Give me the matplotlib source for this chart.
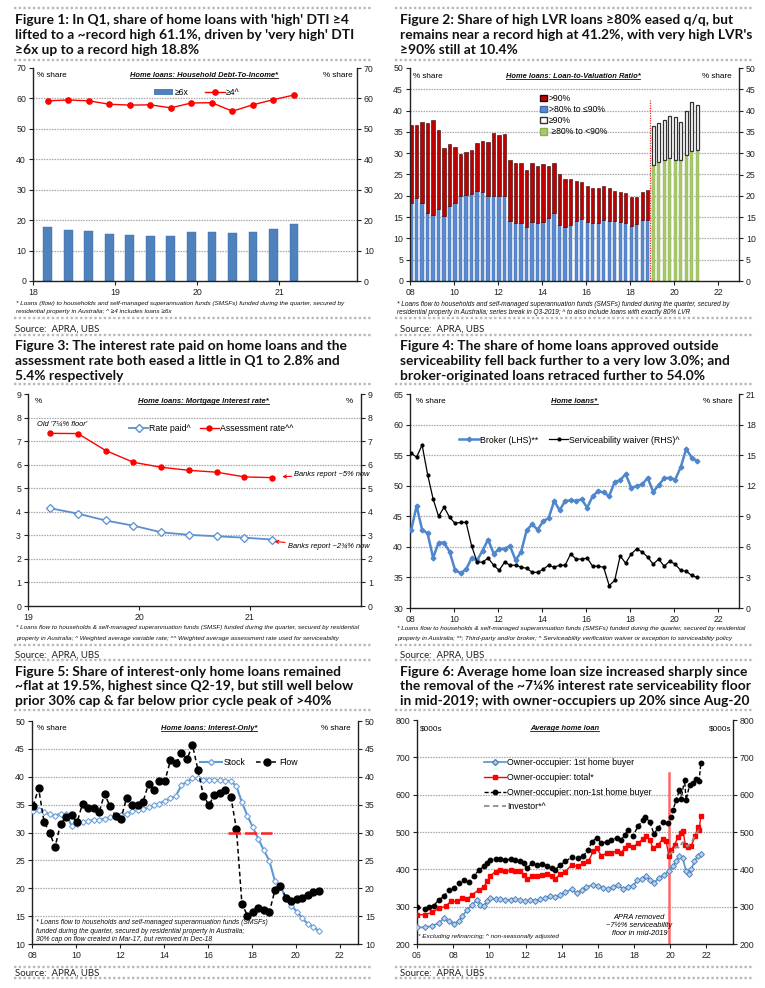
import numpy as np
import matplotlib
matplotlib.use('Agg')
import matplotlib.pyplot as plt
from matplotlib.lines import Line2D
from matplotlib.patches import Patch

# ====================== DATA ======================
# Figure 1: DTI shares, quarterly Mar-18 .. Mar-21
f1_dti6 = [17.6, 16.9, 16.4, 15.5, 15.0, 14.7, 14.8, 16.2, 16.0, 15.7, 16.1, 17.0, 18.8]
f1_dti4 = [59.2, 59.5, 59.2, 58.1, 57.8, 57.9, 56.9, 58.5, 58.6, 55.8, 57.9, 59.6, 61.1]

# Figure 2: LVR shares, quarterly 2008Q1 .. 2018Q4 (old series) then 2019Q1 .. 2021Q1 (new series)
f2_80_90 = [18.4, 19.5, 18.4, 15.9, 15.5, 16.8, 15.2, 17.7, 18.2, 20.0, 20.2, 20.4, 21.2, 20.9,
            20.0, 20.0, 19.9, 20.0, 14.1, 13.7, 13.5, 12.7, 13.8, 13.7, 13.9, 14.9, 15.9, 13.2,
            12.7, 13.1, 14.1, 14.5, 13.9, 13.7, 13.7, 14.3, 14.1, 14.1, 13.9, 13.7, 13.0, 13.3,
            14.3, 14.3]
f2_gt90 = [18.2, 17.1, 19.0, 21.2, 22.2, 18.7, 16.1, 14.4, 13.2, 9.9, 10.1, 10.3, 11.3, 11.9,
           12.7, 14.8, 14.3, 14.4, 14.3, 14.0, 14.1, 13.3, 13.8, 13.3, 13.5, 12.1, 11.9, 11.9,
           11.2, 10.8, 9.4, 8.8, 8.4, 8.2, 8.2, 8.0, 7.8, 7.1, 7.0, 7.0, 6.8, 6.5, 6.6, 7.0]
f2_new_80_90 = [27.2, 28.0, 28.4, 28.9, 28.5, 28.4, 29.5, 30.5, 30.8]
f2_new_ge90 = [9.3, 9.1, 9.3, 9.8, 10.0, 8.9, 10.5, 11.5, 10.4]

# Figure 3: mortgage interest rates, quarterly Mar-19 .. Mar-21
f3_rate_paid = [4.15, 3.92, 3.63, 3.41, 3.13, 3.02, 2.96, 2.90, 2.82]
f3_assess = [7.33, 7.32, 6.60, 6.10, 5.89, 5.76, 5.68, 5.48, 5.45]

# Figure 4: broker share (LHS) and serviceability waiver (RHS), quarterly 2008Q1 .. 2021Q1
f4_broker = [42.7, 46.7, 42.8, 42.2, 38.2, 40.7, 40.7, 39.2, 36.2, 35.7, 36.3, 38.2, 37.8, 39.4,
             41.2, 38.9, 39.6, 39.7, 40.1, 37.8, 39.2, 42.7, 43.7, 42.8, 44.2, 44.7, 47.5, 46.0,
             47.5, 47.6, 47.5, 47.8, 46.4, 48.3, 49.1, 48.9, 48.3, 50.6, 50.9, 51.9, 49.7, 49.9,
             50.2, 51.3, 49.0, 50.1, 51.2, 51.3, 51.0, 53.0, 56.0, 54.6, 54.0]
f4_waiver = [15.2, 14.8, 16.0, 13.1, 10.7, 9.0, 9.9, 8.9, 8.3, 8.4, 8.4, 6.1, 4.5, 4.5, 4.9,
             4.2, 3.7, 4.5, 4.2, 4.2, 4.0, 3.9, 3.5, 3.5, 3.8, 4.2, 4.0, 4.2, 4.2, 5.3, 4.8,
             4.8, 4.9, 4.1, 4.1, 4.0, 2.2, 2.7, 5.1, 4.4, 5.3, 5.8, 5.5, 5.0, 4.3, 4.8, 4.1,
             4.6, 4.3, 3.7, 3.6, 3.2, 3.0]

# Figure 5: interest-only share, quarterly 2008Q1 .. 2021Q1
f5_stock = [33.9, 34.0, 33.6, 33.3, 33.0, 33.4, 33.3, 31.2, 31.6, 31.8, 32.1, 32.2, 32.3, 32.5,
            32.7, 32.9, 33.1, 33.4, 33.8, 34.0, 34.2, 34.5, 34.9, 35.2, 35.7, 36.1, 36.6, 38.5,
            39.1, 39.7, 39.7, 39.5, 39.5, 39.4, 39.4, 39.3, 39.2, 38.3, 35.4, 33.0, 30.9, 28.8,
            26.8, 24.9, 21.3, 20.3, 18.3, 16.9, 15.8, 14.6, 13.6, 13.1, 12.3]
f5_flow = [34.8, 37.9, 31.9, 30.0, 27.4, 31.6, 32.8, 33.1, 31.8, 35.2, 34.4, 34.4, 33.6, 36.9,
           34.7, 33.0, 32.5, 36.2, 35.0, 35.0, 35.5, 38.7, 37.7, 39.3, 39.3, 43.0, 42.4, 44.2,
           43.1, 45.7, 41.2, 36.6, 34.9, 36.8, 37.1, 37.7, 36.3, 30.6, 17.2, 15.1, 15.8, 16.5,
           16.1, 15.8, 19.6, 20.4, 18.3, 17.7, 18.1, 18.2, 18.7, 19.4, 19.5]
f5_cap = 30.0
f5_cap_span = [2016.9, 2018.9]

# Figure 6: average home loan ($000s)
f6_fhb_x = [2006.0, 2006.42, 2006.85, 2007.21, 2007.49, 2007.76, 2008.04, 2008.32, 2008.5, 2008.78,
            2009.05, 2009.33, 2009.51, 2009.69, 2009.88, 2010.06, 2010.34, 2010.61, 2010.89, 2011.17,
            2011.44, 2011.72, 2011.99, 2012.27, 2012.54, 2012.82, 2013.1, 2013.37, 2013.65, 2013.92,
            2014.2, 2014.55, 2014.82, 2015.1, 2015.37, 2015.74, 2016.02, 2016.29, 2016.57, 2016.84,
            2017.12, 2017.39, 2017.67, 2017.94, 2018.18, 2018.44, 2018.68, 2018.86, 2019.1, 2019.36,
            2019.66, 2019.92, 2020.15, 2020.33, 2020.51, 2020.69, 2020.88, 2021.01, 2021.16, 2021.34,
            2021.52, 2021.69]
f6_fhb = [244.6, 244.6, 249, 256, 269.5, 260.6, 254.4, 260.6, 274, 291.8,
          305, 318.6, 305, 302.5, 314, 323, 320, 320, 318.6, 318.6,
          320, 316.8, 314, 318.6, 316, 320, 323, 329.3, 325.7, 332,
          338, 347, 336, 343.5, 352.5, 358.7, 356, 349.8, 347, 354,
          357.8, 347, 354, 356, 370.3, 373.8, 381, 372, 363, 376.5,
          385.4, 394.3, 407.7, 421, 434.5, 430, 394.3, 388, 400.6, 421,
          436, 441.6]
f6_tot_x = [2006.0, 2006.42, 2006.85, 2007.21, 2007.58, 2007.86, 2008.22, 2008.5, 2008.78, 2009.05,
            2009.42, 2009.69, 2009.88, 2010.06, 2010.34, 2010.61, 2010.89, 2011.17, 2011.44, 2011.72,
            2011.9, 2012.08, 2012.36, 2012.64, 2012.91, 2013.19, 2013.46, 2013.65, 2013.92, 2014.2,
            2014.55, 2014.91, 2015.19, 2015.47, 2015.74, 2015.93, 2016.2, 2016.48, 2016.75, 2017.03,
            2017.3, 2017.49, 2017.67, 2017.94, 2018.22, 2018.49, 2018.68, 2018.86, 2019.05, 2019.32,
            2019.6, 2019.78, 2019.92, 2020.06, 2020.24, 2020.42, 2020.6, 2020.71, 2020.83, 2020.97,
            2021.16, 2021.38, 2021.52, 2021.6, 2021.69]
f6_tot = [278.5, 278.5, 284.7, 296, 300.7, 314, 314, 323, 320, 332,
          345, 352.5, 367.6, 382.8, 394, 397, 396, 397, 396, 395,
          385.4, 374, 381, 382.8, 385.4, 388, 382.8, 374, 388, 394,
          412, 407.7, 416.6, 421, 447.8, 456.7, 436, 443.4, 445, 447.8,
          445, 456.7, 465.7, 459.4, 470, 481, 490, 479, 456.7, 465.7,
          481, 474.6, 436, 452.3, 465.7, 486, 496.9, 504, 465.7, 459.4,
          463, 488, 514.7, 505.8, 543]
f6_non_x = [2006.0, 2006.42, 2006.66, 2006.92, 2007.21, 2007.49, 2007.76, 2008.04, 2008.32, 2008.59,
            2008.87, 2009.14, 2009.42, 2009.69, 2009.88, 2010.06, 2010.34, 2010.61, 2010.89, 2011.17,
            2011.44, 2011.72, 2011.9, 2012.08, 2012.36, 2012.64, 2012.91, 2013.19, 2013.46, 2013.65,
            2013.92, 2014.2, 2014.55, 2014.91, 2015.19, 2015.47, 2015.65, 2015.93, 2016.2, 2016.48,
            2016.75, 2017.03, 2017.3, 2017.49, 2017.67, 2017.94, 2018.22, 2018.49, 2018.62, 2018.86,
            2019.1, 2019.32, 2019.6, 2019.88, 2020.03, 2020.15, 2020.33, 2020.51, 2020.6, 2020.79,
            2020.88, 2021.07, 2021.25, 2021.43, 2021.6, 2021.69]
f6_non = [299, 294, 299, 302.5, 318.6, 327.5, 345, 350, 363, 372,
          365, 382.5, 397, 407.7, 416.6, 425.5, 427, 427, 425.5, 427,
          425.5, 421, 416.6, 403, 416.6, 411, 415, 407.7, 403, 398.8,
          412, 421, 432.7, 430, 436, 452, 473, 484, 471, 473,
          479.6, 484, 479.6, 492, 506, 490, 515, 532.5, 539.6, 528,
          495, 510, 528, 523.6, 539.6, 559, 586, 613, 588, 639.5,
          586, 626, 630.6, 641, 637.7, 684]
f6_inv_x = [2019.92, 2020.15, 2020.33, 2020.51, 2020.64, 2020.79, 2020.94, 2021.16, 2021.34, 2021.52, 2021.6]
f6_inv = [439, 448, 461, 457, 470, 474.6, 461, 470, 488, 501, 506]
f6_break = 2019.92

# ====================== LAYOUT ======================
W, H = 765, 988
fig = plt.figure(figsize=(W / 100, H / 100), dpi=100)
fig.patch.set_facecolor('white')
R = fig.canvas.get_renderer()

BODY = ['Liberation Sans Narrow', 'Liberation Sans', 'DejaVu Sans']
TFAM = ['Lato', 'DejaVu Sans']
plt.rcParams['font.family'] = BODY

GRID = '#a8a8a8'
SEP = '#b8b8b8'
BLUE = '#4f81bd'
TICK = 6.3


def add_ax(l, t, r, b):
    return fig.add_axes([l / W, 1 - b / H, (r - l) / W, (b - t) / H])


def fit(t, width):
    w = t.get_window_extent(R).width
    t.set_fontsize(t.get_fontsize() * width / w)
    return t.get_fontsize()


def ftext(x, y, s, **kw):
    return fig.text(x / W, 1 - y / H, s, **kw)


def hsep(x0, x1, y):
    fig.add_artist(Line2D([x0 / W, x1 / W], [1 - y / H] * 2, color=SEP, lw=1.7,
                          ls=(0, (1, 1))))


def make_axes(box, xlim, xticks, xlabels, ylim, yticks, rylim=None, ryticks=None):
    ax = add_ax(*box)
    ax.set_xlim(xlim)
    ax.set_ylim(ylim)
    ax.set_xticks(xticks)
    ax.set_xticklabels(xlabels)
    ax.set_yticks(yticks)
    ax.spines['top'].set_visible(False)
    ax.spines['right'].set_visible(False)
    for s in ['left', 'bottom']:
        ax.spines[s].set_linewidth(1.0)
        ax.spines[s].set_color('#222222')
    ax.tick_params(axis='both', labelsize=TICK, length=3, width=0.8, pad=2,
                   colors='#222222')
    for v in yticks[1:-1]:
        ax.axhline(v, color=GRID, lw=0.9, ls=(0, (1.2, 0.9)), zorder=0)
    ax2 = ax.twinx()
    ax2.set_ylim(rylim if rylim is not None else ylim)
    ax2.set_yticks(ryticks if ryticks is not None else yticks)
    for s in ['top', 'left', 'bottom']:
        ax2.spines[s].set_visible(False)
    ax2.spines['right'].set_linewidth(1.0)
    ax2.spines['right'].set_color('#222222')
    ax2.tick_params(axis='y', labelsize=TICK, length=3, width=0.8, pad=2, colors='#222222')
    return ax, ax2


def ul_title(ax, xf, yf, s, width):
    t = ax.text(xf, yf, s, transform=ax.transAxes, ha='center', va='center',
                fontsize=6.3, fontweight='bold', style='italic', color='#111111')
    fit(t, width)
    bb = t.get_window_extent(R)
    y0 = bb.y0 + 1.0
    fig.add_artist(Line2D([bb.x0 / W, bb.x1 / W], [y0 / H, y0 / H], color='#111111', lw=0.6))
    return t


def corner_labels(ax, s, xl, xr, yf, size=5.9):
    ax.text(xl, yf, s, transform=ax.transAxes, ha='left', va='center', fontsize=size)
    ax.text(xr, yf, s, transform=ax.transAxes, ha='right', va='center', fontsize=size)


def footnote(x, ys, lines, width):
    t0 = ftext(x, ys[0], lines[0], fontsize=5.5, style='italic', va='baseline', color='#111111')
    fs = fit(t0, width)
    for y, s in zip(ys[1:], lines[1:]):
        ftext(x, y, s, fontsize=fs, style='italic', va='baseline', color='#111111')


# ---- title font size fitted on reference lines (smallest fit wins) ----
_sizes = []
for s, w in [("lifted to a ~record high 61.1%, driven by 'very high' DTI", 345),
             ("remains near a record high at 41.2%, with very high LVR's", 353),
             ("the removal of the ~7\u00bc% interest rate serviceability floor", 352),
             ("serviceability fell back further to a very low 3.0%; and", 328),
             ("~flat at 19.5%, highest since Q2-19, but still well below", 342)]:
    _t = ftext(0, 0, s, fontsize=10, fontweight='bold', family=TFAM)
    _sizes.append(fit(_t, w))
    _t.remove()
TS = min(_sizes)


def title(x, ys, lines):
    for y, s in zip(ys, lines):
        ftext(x, y, s, fontsize=TS, fontweight='bold', family=TFAM, va='baseline',
              color='#111111')


def source(x, y):
    t = ftext(x, y, 'Source:  APRA, UBS', fontsize=7.2, family=TFAM, va='baseline',
              color='#222222')
    fit(t, 85)


# separators
for (x0, x1) in [(14, 372), (395, 754)]:
    for y in [8, 60, 318, 335, 384, 645, 660, 710, 967, 978]:
        hsep(x0, x1, y)

TY1 = [24.5, 39, 53.5]
TY2 = [350.5, 365, 379.5]
TY3 = [675.5, 690, 704.5]

title(15, TY1, ["Figure 1: In Q1, share of home loans with 'high' DTI \u22654",
                "lifted to a ~record high 61.1%, driven by 'very high' DTI",
                "\u22656x up to a record high 18.8%"])
title(400, TY1, ["Figure 2: Share of high LVR loans \u226580% eased q/q, but",
                 "remains near a record high at 41.2%, with very high LVR's",
                 "\u226590% still at 10.4%"])
title(15, TY2, ["Figure 3: The interest rate paid on home loans and the",
                "assessment rate both eased a little in Q1 to 2.8% and",
                "5.4% respectively"])
title(400, TY2, ["Figure 4: The share of home loans approved outside",
                 "serviceability fell back further to a very low 3.0%; and",
                 "broker-originated loans retraced further to 54.0%"])
title(15, TY3, ["Figure 5: Share of interest-only home loans remained",
                "~flat at 19.5%, highest since Q2-19, but still well below",
                "prior 30% cap & far below prior cycle peak of >40%"])
title(400, TY3, ["Figure 6: Average home loan size increased sharply since",
                 "the removal of the ~7\u00bc% interest rate serviceability floor",
                 "in mid-2019; with owner-occupiers up 20% since Aug-20"])

for x, y in [(15, 332), (400, 332), (15, 658), (400, 658), (15, 975.5), (400, 975.5)]:
    source(x, y)

# ====================== FIGURE 1 ======================
ax, ax2 = make_axes((33, 68, 357, 281), (18, 21.95), [18, 19, 20, 21], ['18', '19', '20', '21'],
                    (0, 70), list(range(0, 71, 10)))
x1 = 18.18 + 0.25 * np.arange(len(f1_dti6))
ax.bar(x1, f1_dti6, width=0.105, color=BLUE, edgecolor='#3d6ca6', lw=0.3, zorder=2)
ax.plot(x1, f1_dti4, color='#ff0000', lw=1.0, marker='o', ms=3.8, zorder=3)
ax.legend([Patch(facecolor=BLUE), Line2D([], [], color='#ff0000', marker='o', ms=3.8, lw=1)],
          ['\u22656x', '\u22654^'], ncol=2, loc='center', bbox_to_anchor=(0.505, 0.885),
          frameon=False, fontsize=6.2, handlelength=2.3, handleheight=0.6, columnspacing=2.0,
          handletextpad=0.1, borderaxespad=0)
ul_title(ax, 0.528, 0.967, 'Home loans: Household Debt-To-Income*', 148)
corner_labels(ax, '% share', 0.012, 0.985, 0.967)
footnote(16, [305.5, 313.5],
         ["* Loans (flow) to households and self-managed superannuation funds (SMSFs) funded during the quarter, secured by",
          "residential property in Australia; ^ \u22654 includes loans \u22656x"], 334)

# ====================== FIGURE 2 ======================
yrs = list(range(2008, 2023, 2))
ylab = ['%02d' % (y % 100) for y in yrs]
ax, ax2 = make_axes((410, 68, 739, 281), (2008, 2022.95), yrs, ylab,
                    (0, 50), list(range(0, 51, 5)))
xo = 2008.05 + 0.25 * np.arange(len(f2_80_90))
xn = 2008.05 + 0.25 * (len(f2_80_90) + np.arange(len(f2_new_80_90)))
bw = 0.15
ax.bar(xo, f2_80_90, width=bw, color='#5b8ad0', edgecolor='#3e6aa8', lw=0.3, zorder=2)
ax.bar(xo, f2_gt90, bottom=f2_80_90, width=bw, color='#c00000', edgecolor='#300000', lw=0.4,
       zorder=2)
ax.bar(xn, f2_new_80_90, width=bw, color='#a8c870', edgecolor='#8db04a', lw=0.3, zorder=2)
ax.bar(xn, f2_new_ge90, bottom=f2_new_80_90, width=bw, color='white', edgecolor='#333333',
       lw=0.9, zorder=2)
brk = 0.5 * (xo[-1] + xn[0])
ax.plot([brk, brk], [0, 42.4], color='#ff2020', lw=0.9, ls=(0, (1, 1)), zorder=3)
ax.legend([Patch(facecolor='#c00000', edgecolor='#300000'),
           Patch(facecolor='#5b8ad0', edgecolor='#3e6aa8'),
           Patch(facecolor='white', edgecolor='#333333', lw=1),
           Patch(facecolor='#a8c870', edgecolor='#8db04a')],
          ['>90%', '>80% to \u226490%', '\u226590%', ' \u226580% to <90%'],
          loc='upper left', bbox_to_anchor=(0.385, 0.895), frameon=False, fontsize=6.2,
          handlelength=0.8, handleheight=0.8, handletextpad=0.2, labelspacing=0.25,
          borderaxespad=0)
ul_title(ax, 0.495, 0.962, 'Home loans: Loan-to-Valuation Ratio*', 134)
corner_labels(ax, '% share', 0.01, 0.979, 0.962)
footnote(397, [305.5, 313.5],
         ["* Loans flow to households and self-managed superannuation funds (SMSFs) funded during the quarter, secured by",
          "residential property in Australia; series break in Q3-2019; ^ to also include loans with exactly 80% LVR"], 335)

# ====================== FIGURE 3 ======================
ax, ax2 = make_axes((28, 394, 361, 606), (19, 22), [19, 20, 21], ['19', '20', '21'],
                    (0, 9), list(range(0, 10)))
x3 = 19.2 + 0.25 * np.arange(len(f3_rate_paid))
ax.plot(x3, f3_rate_paid, color='#5b8fd0', lw=1.3, marker='D', ms=4, mfc='white',
        mec='#5b8fd0', mew=0.9, zorder=3)
ax.plot(x3, f3_assess, color='#ff0000', lw=1.0, marker='o', ms=3.6, zorder=3)
ax.legend([Line2D([], [], color='#5b8fd0', lw=1.3, marker='D', ms=4, mfc='white', mec='#5b8fd0'),
           Line2D([], [], color='#ff0000', lw=1.0, marker='o', ms=3.6)],
          ['Rate paid^', 'Assessment rate^^'], ncol=2, loc='center',
          bbox_to_anchor=(0.55, 0.835), frameon=False, fontsize=6.3, handlelength=2.2,
          handletextpad=0.1, columnspacing=1.0, borderaxespad=0)
ul_title(ax, 0.526, 0.965, 'Home loans: Mortgage Interest rate*', 130)
corner_labels(ax, '%', 0.02, 0.975, 0.965)
ax.text(19.08, 7.72, "Old '7\u00bc% floor'", fontsize=5.4, style='italic', ha='left', va='center')
ax.annotate('Banks report ~5% now', xy=(21.29, 5.49), xytext=(21.40, 5.58), fontsize=5.4,
            style='italic', ha='left', va='center',
            arrowprops=dict(arrowstyle='->', color='#ff0000', lw=0.8, shrinkA=0, shrinkB=0))
ax.annotate('Banks report ~2\u00be% now', xy=(21.22, 2.74), xytext=(21.34, 2.53), fontsize=5.4,
            style='italic', ha='left', va='center',
            arrowprops=dict(arrowstyle='->', color='#ff0000', lw=0.8, shrinkA=0, shrinkB=0))
footnote(16, [629.5, 639.5],
         ["* Loans flow to households & self-managed superannuation funds (SMSF) funded during the quarter, secured by residential",
          "property in Australia; ^ Weighted average variable rate; ^^ Weighted average assessment rate used for serviceability"], 343)

# ====================== FIGURE 4 ======================
ax, ax2 = make_axes((410, 394, 739, 608), (2008, 2022.95), yrs, ylab,
                    (30, 65), list(range(30, 66, 5)), (0, 21), list(range(0, 22, 3)))
x4 = 2008.05 + 0.25 * np.arange(len(f4_broker))
ax.plot(x4, f4_broker, color='#4f86cc', lw=1.8, marker='D', ms=2.4, zorder=3)
ax2.plot(x4, f4_waiver, color='black', lw=0.9, marker='o', ms=2.0, zorder=3)
ax2.legend([Line2D([], [], color='#4f86cc', lw=1.8, marker='D', ms=2.4),
            Line2D([], [], color='black', lw=0.9, marker='o', ms=2.0)],
           ['Broker (LHS)**', 'Serviceability waiver (RHS)^'], ncol=2, loc='center',
           bbox_to_anchor=(0.485, 0.785), frameon=False, fontsize=6.3, handlelength=2.2,
           handletextpad=0.1, columnspacing=1.3, borderaxespad=0)
ul_title(ax, 0.50, 0.964, 'Home loans*', 46)
corner_labels(ax, '% share', 0.017, 0.98, 0.964)
footnote(397, [630, 640],
         ["* Loans flow to households & self-managed superannuation funds (SMSFs) funded during the quarter, secured by residential",
          "property in Australia; **; Third-party and/or broker; ^ Serviceability verification waiver or exception to serviceability policy"], 355)

# ====================== FIGURE 5 ======================
ax, ax2 = make_axes((32, 721, 358, 944), (2008, 2022.83), yrs, ylab,
                    (10, 50), list(range(10, 51, 5)))
x5 = 2008.05 + 0.25 * np.arange(len(f5_stock))
ax.plot(x5, f5_stock, color='#5b9bd5', lw=1.5, marker='D', ms=3.0, mfc='white',
        mec='#6fa3dc', mew=0.8, zorder=3)
ax.plot(x5, f5_flow, color='black', lw=1.1, ls=(0, (3, 2)), marker='o', ms=5.0, zorder=4)
ax.plot(f5_cap_span, [f5_cap, f5_cap], color='#ff2020', lw=1.8, ls=(0, (5, 1.5)), zorder=5)
ax.legend([Line2D([], [], color='#5b9bd5', lw=1.5, marker='D', ms=3.0, mfc='white', mec='#6fa3dc'),
           Line2D([], [], color='black', lw=1.1, ls=(0, (3, 2)), marker='o', ms=5.0)],
          ['Stock', 'Flow'], ncol=2, loc='center', bbox_to_anchor=(0.665, 0.815),
          frameon=False, fontsize=6.3, handlelength=2.6, handletextpad=0.1,
          columnspacing=1.2, borderaxespad=0)
ul_title(ax, 0.543, 0.967, 'Home loans: Interest-Only*', 96)
corner_labels(ax, '% share', 0.016, 0.978, 0.967)
footnote(36, [923.5, 932.5, 941],
         ["* Loans flow to households and self-managed superannuation funds (SMSFs)",
          "funded during the quarter, secured by residential property in Australia;",
          "30% cap on flow created in Mar-17, but removed in Dec-18"], 232)

# ====================== FIGURE 6 ======================
yrs6 = list(range(2006, 2023, 2))
ax, ax2 = make_axes((417, 720, 733, 944), (2006, 2023.47), yrs6,
                    ['%02d' % (y % 100) for y in yrs6], (200, 800), list(range(200, 801, 100)))
ax.plot([f6_break, f6_break], [200, 658], color='#ff6666', lw=1.8, zorder=2)
ax.plot(f6_non_x, f6_non, color='black', lw=1.0, ls=(0, (3, 1.5)), marker='o', ms=3.2, zorder=3)
ax.plot(f6_tot_x, f6_tot, color='#ff0000', lw=1.0, marker='s', ms=2.4, zorder=3)
ax.plot(f6_fhb_x, f6_fhb, color='#5b8fd0', lw=1.2, marker='D', ms=3.0, mfc='#b9d3ef',
        mec='#4f81bd', mew=0.7, zorder=3)
ax.plot(f6_inv_x, f6_inv, color='#8c8c8c', lw=1.3, ls=(0, (3, 2)), zorder=4)
ax.legend([Line2D([], [], color='#5b8fd0', lw=1.2, marker='D', ms=3.0, mfc='#b9d3ef', mec='#4f81bd'),
           Line2D([], [], color='#ff0000', lw=1.0, marker='s', ms=2.4),
           Line2D([], [], color='black', lw=1.0, ls=(0, (3, 1.5)), marker='o', ms=3.2),
           Line2D([], [], color='#8c8c8c', lw=1.3, ls=(0, (3, 2)))],
          ['Owner-occupier: 1st home buyer', 'Owner-occupier: total*',
           'Owner-occupier: non-1st home buyer', 'Investor*^'],
          loc='upper left', bbox_to_anchor=(0.2, 0.845), frameon=False, fontsize=6.3,
          handlelength=2.6, handletextpad=0.1, labelspacing=0.65, borderaxespad=0)
ul_title(ax, 0.468, 0.96, 'Average home loan', 69)
corner_labels(ax, '$000s', 0.008, 0.995, 0.96)
ax.text(2018.3, 250, 'APRA removed\n~7\u00bd% serviceability\nfloor in mid-2019',
        fontsize=5.4, style='italic', ha='center', va='center', linespacing=1.15)
footnote(418, [938], ["* Excluding refinancing; ^ non-seasonally adjusted"], 142)

fig.savefig('out.png', dpi=100, facecolor='white')
